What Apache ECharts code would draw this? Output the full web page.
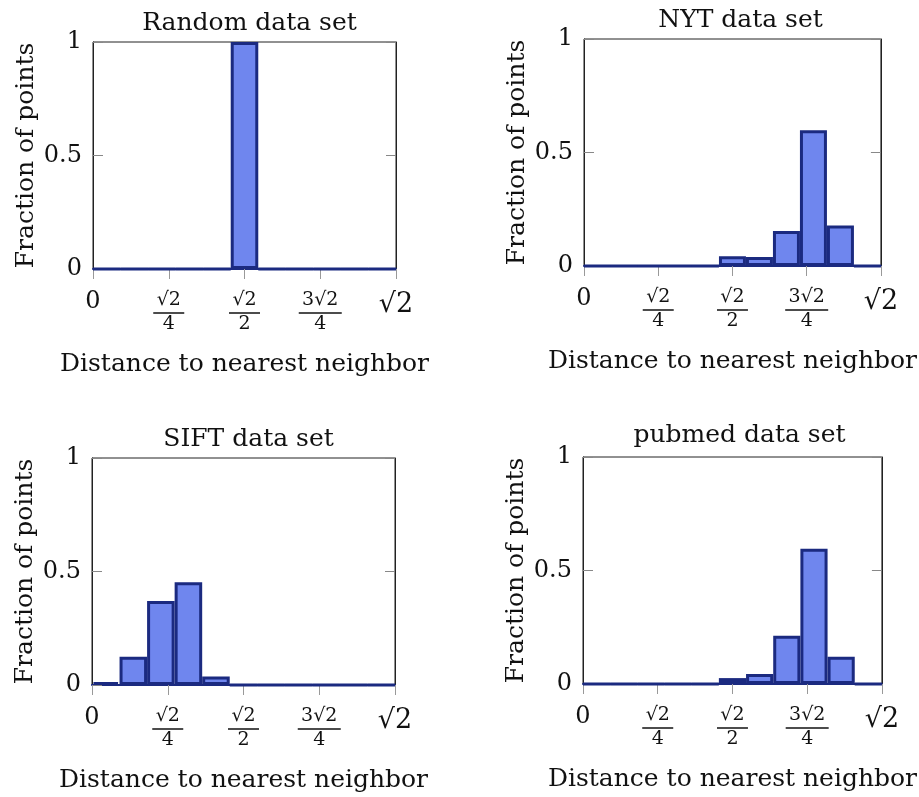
<!DOCTYPE html>
<html>
<head>
<meta charset="utf-8">
<script src="https://cdn.jsdelivr.net/npm/echarts@6/dist/echarts.min.js"></script>
<style>
    html, body { margin: 0; padding: 0; background: #fff; }
    #chart { width: 919px; height: 797px; }
</style>
</head>
<body>
<div id="chart"></div>
<script>
// histogram bins: 11 equal bins between 0 and sqrt(2)
var binLabels = ["b0", "b1", "b2", "b3", "b4", "b5", "b6", "b7", "b8", "b9", "b10"];
var randomVals = [0, 0, 0, 0, 0, 1, 0, 0, 0, 0, 0];
var nytVals = [0, 0, 0, 0, 0, 0.043, 0.04, 0.154, 0.598, 0.178, 0];
var siftVals = [0.013, 0.125, 0.37, 0.453, 0.037, 0, 0, 0, 0, 0, 0];
var pubmedVals = [0, 0, 0, 0, 0, 0.026, 0.044, 0.213, 0.596, 0.12, 0];
var titles = ["Random data set", "NYT data set", "SIFT data set", "pubmed data set"];
// x tick labels at 0, √2/4, √2/2, 3√2/4, √2
var tickNums = ["0", "√2", "√2", "3√2", "√2"];
var tickDens = ["", "4", "2", "4", ""];

var chartDom = document.getElementById("chart");
var myChart = echarts.init(chartDom);
var font = "DejaVu Serif";
var fill = "#6f86ee";
var edge = "#1b2a80";

var panels = [
    { left: 93, top: 42, titleTop: 6, data: randomVals },
    { left: 584, top: 39, titleTop: 3, data: nytVals },
    { left: 92, top: 458, titleTop: 422, data: siftVals },
    { left: 583, top: 457, titleTop: 418, data: pubmedVals },
];
var W = 303;
var H = 227;

var step = Math.SQRT2 / 4;
function xLabel(value) {
    var i = Math.round(value / step);
    if (!tickDens[i]) return "{" + (i === 0 ? "zero" : "big") + "|" + tickNums[i] + "}";
    var bar = tickNums[i].length > 2 ? "barL" : "barS";
    return "{n|" + tickNums[i] + "}\n{" + bar + "| }\n{d|" + tickDens[i] + "}";
}

var grid = [], xAxis = [], yAxis = [], series = [], title = [];
panels.forEach(function (p, k) {
    grid.push({
        left: p.left,
        top: p.top,
        width: W,
        height: H,
        show: true,
        borderColor: "#222",
        borderWidth: 1,
        backgroundColor: "#fff",
    });
    title.push({
        text: titles[k],
        left: p.left + W / 2,
        top: p.titleTop,
        textAlign: "center",
        textStyle: { fontFamily: font, fontSize: 25, fontWeight: "normal", color: "#111" },
    });
    // value axis carrying the ticks
    xAxis.push({
        type: "value",
        gridIndex: k,
        min: 0,
        max: Math.SQRT2,
        interval: step,
        name: "Distance to nearest neighbor",
        nameLocation: "middle",
        nameGap: 83,
        nameTextStyle: { fontFamily: font, fontSize: 25, color: "#111" },
        axisLine: { show: true, lineStyle: { color: edge, width: 2 } },
        axisTick: { show: true, length: 10, lineStyle: { color: "#999", width: 1 } },
        splitLine: { show: false },
        axisLabel: {
            margin: 21,
            fontFamily: font,
            color: "#111",
            formatter: xLabel,
            rich: {
                zero: { fontFamily: font, fontSize: 24, lineHeight: 24, color: "#111" },
                big: { fontFamily: font, fontSize: 27, lineHeight: 30, color: "#111" },
                n: { fontFamily: font, fontSize: 19, lineHeight: 21, color: "#111" },
                d: { fontFamily: font, fontSize: 19, lineHeight: 19, color: "#111" },
                barS: { width: 31, height: 1.5, lineHeight: 4, fontSize: 1, backgroundColor: "#111" },
                barL: { width: 43, height: 1.5, lineHeight: 4, fontSize: 1, backgroundColor: "#111" },
            },
        },
    });
    // category axis for the histogram bins
    xAxis.push({
        type: "category",
        gridIndex: k,
        data: binLabels,
        show: false,
        boundaryGap: true,
    });
    yAxis.push({
        type: "value",
        gridIndex: k,
        min: 0,
        max: 1,
        interval: 0.5,
        name: "Fraction of points",
        nameLocation: "middle",
        nameGap: 54,
        nameTextStyle: { fontFamily: font, fontSize: 25, color: "#111" },
        axisLine: { show: true, lineStyle: { color: "#222", width: 1 } },
        axisTick: { show: true, inside: true, length: 10, lineStyle: { color: "#888" } },
        splitLine: { show: false },
        axisLabel: {
            margin: 11,
            fontFamily: font,
            fontSize: 24,
            color: "#111",
            formatter: function (v) {
                return String(v);
            },
        },
    });
    yAxis.push({
        type: "value",
        gridIndex: k,
        position: "right",
        min: 0,
        max: 1,
        interval: 0.5,
        axisLine: { show: true, lineStyle: { color: "#222", width: 1 } },
        axisTick: { show: true, inside: true, length: 10, lineStyle: { color: "#888" } },
        splitLine: { show: false },
        axisLabel: { show: false },
    });
    series.push({
        type: "bar",
        name: titles[k],
        xAxisIndex: k * 2 + 1,
        yAxisIndex: k * 2,
        data: p.data,
        barCategoryGap: "0%",
        itemStyle: { color: fill, borderColor: edge, borderWidth: 3 },
        silent: true,
    });
});

var option = {
    backgroundColor: "#fff",
    animation: false,
    title: title,
    grid: grid,
    xAxis: xAxis,
    yAxis: yAxis,
    series: series,
};
option && myChart.setOption(option, true);
</script>
</body>
</html>
